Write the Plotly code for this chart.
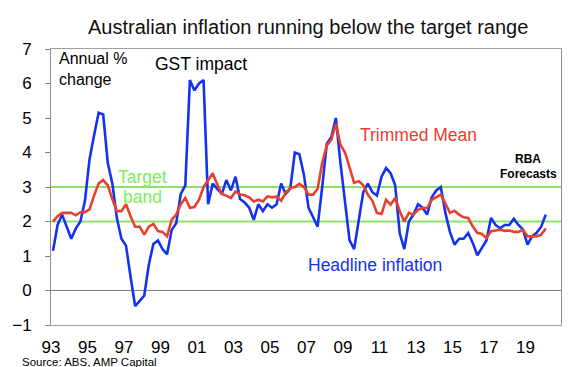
import plotly.graph_objects as go

# Quarterly data, 1993 Q1 to 2020 Q1 (annual % change)
start_year = 1993
headline = [1.15, 1.9, 2.2, 1.85, 1.5, 1.8, 2.0, 2.6, 3.8, 4.5,
            5.15, 5.1, 3.7, 3.1, 2.1, 1.5, 1.3, 0.4, -0.45, -0.3,
            -0.15, 0.75, 1.35, 1.45, 1.2, 1.05, 1.75, 1.95, 2.8, 3.05,
            6.1, 5.8, 6.0, 6.1, 2.5, 3.1, 2.95, 2.8, 3.2, 2.9,
            3.3, 2.65, 2.55, 2.4, 2.05, 2.5, 2.3, 2.5, 2.4, 2.5,
            3.1, 2.8, 2.95, 4.0, 3.95, 3.35, 2.4, 2.1, 1.85, 3.0,
            4.25, 4.45, 5.0, 3.7, 2.5, 1.45, 1.2, 2.05, 2.85, 3.1,
            2.85, 2.75, 3.3, 3.55, 3.4, 3.05, 1.65, 1.2, 2.0, 2.2,
            2.5, 2.4, 2.2, 2.7, 2.9, 3.0, 2.25, 1.7, 1.33, 1.5,
            1.5, 1.67, 1.38, 1.02, 1.25, 1.45, 2.1, 1.9, 1.8, 1.9,
            1.9, 2.08, 1.9, 1.77, 1.33, 1.57, 1.67, 1.85, 2.2]
trimmed_mean = [2.0, 2.15, 2.25, 2.25, 2.25, 2.18, 2.27, 2.27, 2.35, 2.75,
                3.1, 3.2, 3.05, 2.65, 2.3, 2.3, 2.5, 2.15, 1.85, 1.85,
                1.62, 1.85, 1.93, 1.72, 1.7, 1.57, 2.05, 2.2, 2.5, 2.68,
                2.4, 2.42, 2.63, 3.0, 3.2, 3.4, 3.07, 2.8, 2.75, 2.68,
                2.87, 2.78, 2.76, 2.7, 2.58, 2.63, 2.58, 2.73, 2.7, 2.72,
                2.6, 2.83, 2.97, 3.0, 3.09, 3.0, 2.78, 2.78, 2.95, 3.7,
                4.2, 4.37, 4.83, 4.23, 4.0, 3.55, 3.12, 3.17, 3.05, 2.78,
                2.6, 2.25, 2.22, 2.63, 2.49, 2.68, 2.3, 2.0, 2.25, 2.2,
                2.34, 2.39, 2.39, 2.63, 2.7, 2.78, 2.52, 2.25, 2.31, 2.2,
                2.12, 2.1, 1.86, 1.67, 1.64, 1.52, 1.72, 1.73, 1.76, 1.73,
                1.74, 1.7, 1.7, 1.76, 1.57, 1.57, 1.57, 1.62, 1.8]
tick_years = [1993, 1995, 1997, 1999, 2001, 2003, 2005, 2007, 2009, 2011,
              2013, 2015, 2017, 2019]
tick_labels = ["93", "95", "97", "99", "01", "03", "05", "07", "09", "11",
               "13", "15", "17", "19"]
target_band = [2, 3]
y_ticks = [-1, 0, 1, 2, 3, 4, 5, 6, 7]

x = [start_year + i * 0.25 for i in range(len(headline))]
xr = [start_year + j * 0.25 for j in range(len(trimmed_mean))]

BLUE = "#1432F0"
RED = "#E8402E"
GREEN = "#8DE36A"
FONT = "Liberation Sans, Arial, sans-serif"

fig = go.Figure()
fig.add_trace(go.Scatter(x=x, y=headline, mode="lines",
                         line=dict(color=BLUE, width=2.6), name="Headline inflation"))
fig.add_trace(go.Scatter(x=xr, y=trimmed_mean, mode="lines",
                         line=dict(color=RED, width=2.6), name="Trimmed Mean"))

for v in target_band:
    fig.add_shape(type="line", xref="paper", x0=0, x1=1, yref="y", y0=v, y1=v,
                  line=dict(color=GREEN, width=2), layer="below")

W, H = 580, 367
L, R, T, B = 43, 27, 41, 50
pw, ph = W - L - R, H - T - B

def px(xp, yp):
    return (xp - L) / pw, 1 - (yp - T) / ph

def ann(text, xp, yp, color="black", size=17, bold=False, anchor="center", align="center"):
    t = f"<b>{text}</b>" if bold else text
    a, b = px(xp, yp)
    fig.add_annotation(text=t, x=a, y=b, xref="paper", yref="paper",
                       showarrow=False, font=dict(family=FONT, size=size, color=color),
                       xanchor=anchor, yanchor="middle", align=align)

for text, xp, yp, col, sz, bd, anc in [
    ("Annual %<br>change", 49, 61, "black", 16, False, "left"),
    ("GST impact", 193, 56, "black", 17.5, False, "center"),
    ("Target", 134, 169, "#7CF05A", 17.5, False, "center"),
    ("band", 134, 189, "#7CF05A", 17.5, False, "center"),
    ("Trimmed Mean", 410, 127, RED, 17.5, False, "center"),
    ("Headline inflation", 367, 257, BLUE, 17.5, False, "center"),
    ("RBA", 520, 151, "black", 12, True, "center"),
    ("Forecasts", 520, 166, "black", 12, True, "center"),
]:
    ann(text, xp, yp, col, sz, bd, anc, "left" if anc == "left" else "center")

ann("Australian inflation running below the target range", 300, 19, "#111", 20)
ann("Source: ABS, AMP Capital", 12, 354, "black", 11.5, False, "left", "left")

fig.update_layout(
    width=W, height=H,
    margin=dict(l=L, r=R, t=T, b=B, autoexpand=False),
    paper_bgcolor="white", plot_bgcolor="white",
    showlegend=False,
    font=dict(family=FONT, size=16, color="black"),
)
fig.update_xaxes(
    automargin=False,
    range=[start_year - 0.11, start_year - 0.11 + pw / 18.25],
    tickmode="array",
    tickvals=[yv - 0.11 for yv in tick_years],
    ticktext=tick_labels,
    ticks="outside", ticklen=7, tickcolor="rgba(0,0,0,0)",
    showgrid=False, zeroline=False,
    showline=True, linecolor="#A0A0A0", linewidth=1, mirror=True,
    tickfont=dict(size=17, color="black"),
)
fig.update_yaxes(
    automargin=False,
    range=[-1, 7],
    tickmode="array", tickvals=y_ticks,
    ticks="outside", ticklen=5, tickcolor="#808080",
    showgrid=False,
    zeroline=True, zerolinecolor="#808080", zerolinewidth=1,
    showline=True, linecolor="#909090", linewidth=1, mirror=True,
    tickfont=dict(size=17, color="black"),
    ticklabelstandoff=10,
)

fig.write_html("out.html")
